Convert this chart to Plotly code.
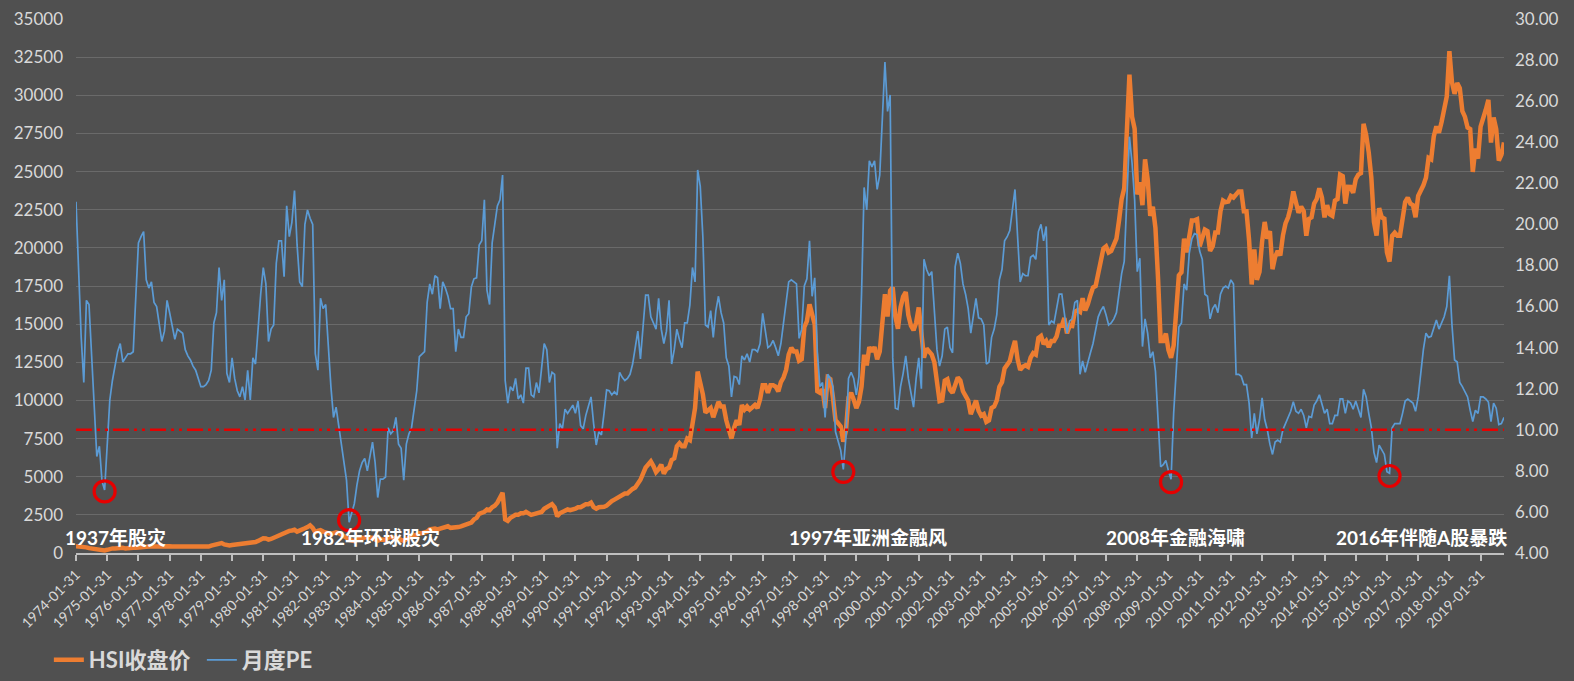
import plotly.graph_objects as go
import pandas as pd

# ---------------- data ----------------
months = pd.date_range("1974-01-31", periods=550, freq="ME").strftime("%Y-%m-%d").tolist()
tick_labels = [f"{y}-01-31" for y in range(1974, 2020)]

hsi_close = [
    440, 420, 460, 400, 370, 320, 300, 260, 210, 230, 190, 171,            # 1974
    210, 280, 300, 290, 330, 360, 340, 300, 290, 300, 340, 350,            # 1975
    380, 400, 420, 420, 430, 430, 440, 430, 420, 410, 420, 447,            # 1976
    440, 425, 420, 410, 420, 410, 415, 410, 410, 400, 400, 404,            # 1977
    390, 385, 400, 420, 480, 530, 560, 620, 650, 560, 500, 496,            # 1978
    520, 540, 560, 580, 620, 600, 590, 620, 660, 720, 790, 880,            # 1979
    960, 950, 880, 920, 1000, 1050, 1150, 1180, 1250, 1330, 1450, 1474,    # 1980
    1520, 1400, 1450, 1560, 1620, 1700, 1810, 1650, 1350, 1450, 1500, 1405,  # 1981
    1350, 1300, 1250, 1300, 1350, 1300, 1200, 1150, 1000, 850, 780, 783,   # 1982
    900, 950, 950, 1000, 1050, 1000, 1000, 880, 800, 880, 850, 874,        # 1983
    1000, 1050, 1000, 1000, 950, 850, 800, 900, 1000, 1050, 1150, 1200,    # 1984
    1300, 1300, 1350, 1400, 1550, 1600, 1600, 1550, 1600, 1650, 1700, 1752,  # 1985
    1650, 1650, 1700, 1700, 1750, 1800, 1850, 1900, 2000, 2200, 2300, 2568,  # 1986
    2600, 2700, 2850, 2800, 3000, 3100, 3300, 3600, 3950, 2200, 2100, 2302,  # 1987
    2400, 2500, 2500, 2600, 2600, 2700, 2600, 2500, 2550, 2600, 2650, 2687,  # 1988
    2900, 3000, 3100, 3200, 3000, 2400, 2600, 2700, 2800, 2850, 2800, 2837,  # 1989
    2900, 3000, 3000, 3100, 3200, 3200, 3300, 3000, 2900, 3000, 3000, 3024,  # 1990
    3100, 3300, 3400, 3500, 3600, 3650, 3800, 3900, 3900, 4100, 4200, 4297,  # 1991
    4500, 4800, 5200, 5600, 5800, 6000, 5700, 5300, 5500, 5800, 5200, 5512,  # 1992
    5600, 6100, 6200, 7000, 7200, 7000, 7000, 7500, 7400, 8600, 9500, 11888,  # 1993
    11200, 10400, 9200, 9400, 9500, 8900, 9500, 9900, 9600, 9600, 8700, 8191,  # 1994
    7500, 8200, 8700, 8400, 9700, 9400, 9600, 9400, 9600, 9700, 9500, 10073,  # 1995
    11000, 11000, 10500, 11000, 11000, 10900, 10600, 11200, 11500, 12000, 13000, 13451,  # 1996
    13200, 13200, 12600, 12700, 14800, 15200, 16300, 15700, 15000, 10600, 10500, 10723,  # 1997
    9500, 11500, 11400, 10200, 8700, 8500, 8300, 7300, 8000, 10200, 10500, 10049,  # 1998
    9500, 9900, 10900, 13000, 12300, 13500, 13200, 13500, 12700, 13200, 15300, 16962,  # 1999
    15500, 17200, 17400, 15500, 14700, 16100, 16800, 17100, 15600, 14900, 14600, 15096,  # 2000
    16100, 14000, 12800, 13400, 13200, 13000, 12500, 11100, 9950, 10000, 11300, 11397,  # 2001
    10700, 10500, 11000, 11500, 11300, 10600, 10300, 10000, 9100, 9500, 10000, 9321,  # 2002
    9000, 9100, 8600, 8700, 9500, 9600, 10000, 10900, 11200, 12100, 12300, 12576,  # 2003
    13300, 13900, 12700, 12000, 12200, 12300, 12200, 12800, 13100, 13000, 14100, 14230,  # 2004
    13700, 13900, 13500, 13900, 13900, 14200, 14900, 14900, 15400, 14400, 14900, 14876,  # 2005
    15800, 15900, 15800, 16700, 15900, 16300, 16900, 17400, 17500, 18300, 18900, 19964,  # 2006
    20100, 19700, 19800, 20300, 20600, 21800, 23200, 23900, 27100, 31352, 28600, 27812,  # 2007
    23500, 24300, 22800, 25800, 24500, 22100, 22700, 21300, 18000, 13900, 13900, 14387,  # 2008
    13300, 12800, 13600, 15500, 18200, 18400, 20600, 19700, 20900, 21800, 21800, 21873,  # 2009
    20100, 20600, 21200, 21100, 19800, 20100, 21000, 21000, 22400, 23100, 23000, 23035,  # 2010
    23400, 23300, 23500, 23700, 23700, 22400, 22400, 20500, 17600, 19900, 17900, 18434,  # 2011
    20400, 21700, 20600, 21100, 18600, 19400, 19800, 19500, 20800, 21600, 22000, 22657,  # 2012
    23700, 23000, 22300, 22700, 22400, 20800, 21900, 22000, 22900, 23200, 23900, 23306,  # 2013
    22000, 22800, 22200, 22100, 23100, 23200, 24800, 24700, 22900, 23998, 23987, 23605,  # 2014
    24500, 24800, 24900, 28133, 27400, 26250, 24600, 21700, 20800, 22600, 21996, 21914,  # 2015
    19700, 19100, 20800, 21000, 20800, 20800, 21900, 23000, 23300, 22900, 22800, 22001,  # 2016
    23400, 23700, 24100, 24600, 25900, 25800, 27300, 27970, 27550, 28245, 29177, 29919,  # 2017
    32887, 30845, 30093, 30808, 30469, 28955, 28583, 27888, 27789, 24979, 26507, 25845,  # 2018
    27943, 28633, 29051, 29699, 26901, 28543, 27777, 25725, 26092, 26906,                # 2019
]

pe_monthly = [
    21.1, 17.5, 14.5, 12.3, 16.3, 16.1, 13.6, 11.1, 8.7, 9.2, 7.5, 7.07,        # 1974
    9.5, 11.45, 12.4, 13.2, 13.8, 14.2, 13.3, 13.5, 13.7, 13.7, 13.8, 16.5,     # 1975
    19.1, 19.4, 19.65, 17.3, 16.9, 17.2, 16.2, 16.0, 15.2, 14.3, 14.8, 16.3,    # 1976
    15.7, 15.0, 14.4, 14.9, 14.8, 14.7, 13.9, 13.6, 13.4, 13.1, 12.9, 12.5,     # 1977
    12.1, 12.1, 12.2, 12.4, 12.9, 15.2, 15.7, 17.9, 16.3, 17.3, 12.75, 12.3,    # 1978
    13.5, 12.5, 11.9, 11.6, 12.1, 11.45, 12.9, 11.45, 13.5, 13.2, 15.0, 16.6,   # 1979
    17.9, 17.1, 14.3, 14.9, 15.1, 18.1, 19.2, 19.2, 17.45, 20.9, 19.4, 20.1,    # 1980
    21.65, 19.0, 17.2, 16.97, 20.0, 20.7, 20.3, 20.0, 13.7, 12.9, 16.4, 15.9,   # 1981
    16.1, 14.0, 12.1, 10.6, 11.1, 10.2, 9.3, 8.4, 7.55, 5.5, 6.0, 6.4,          # 1982
    7.3, 8.0, 8.4, 8.6, 8.0, 8.7, 9.4, 8.4, 6.7, 7.6, 7.6, 7.7,                 # 1983
    10.1, 9.8, 9.95, 10.6, 9.3, 9.1, 7.55, 9.3, 9.8, 10.1, 11.0, 11.9,          # 1984
    13.56, 13.7, 13.8, 16.2, 17.1, 16.6, 17.5, 17.4, 15.9, 17.2, 16.9, 16.5,    # 1985
    15.9, 15.9, 13.8, 14.9, 14.5, 14.5, 15.5, 15.65, 16.95, 17.35, 17.4, 19.0,  # 1986
    19.2, 21.2, 16.8, 16.1, 19.1, 20.0, 20.9, 21.2, 22.4, 12.4, 11.3, 12.1,     # 1987
    11.9, 12.5, 11.5, 11.7, 11.3, 13.0, 13.0, 11.7, 11.6, 12.3, 11.8, 13.0,     # 1988
    14.2, 13.9, 12.3, 12.8, 12.7, 9.1, 10.3, 10.05, 11.0, 10.8, 11.0, 11.2,     # 1989
    10.8, 11.4, 10.2, 10.05, 10.7, 11.2, 11.6, 10.3, 9.26, 9.9, 9.75, 10.8,     # 1990
    11.94, 11.9, 11.7, 11.85, 11.7, 12.8, 12.55, 12.4, 12.5, 12.7, 13.2, 14.0,  # 1991
    14.8, 13.45, 15.0, 16.56, 16.56, 15.5, 15.2, 14.9, 16.4, 14.9, 14.2, 14.8,  # 1992
    16.3, 13.2, 13.9, 14.9, 14.4, 14.0, 15.2, 15.2, 16.07, 17.9, 17.2, 22.65,   # 1993
    21.85, 19.4, 15.1, 15.0, 15.8, 14.5, 15.8, 16.5, 15.7, 15.2, 13.5, 13.1,    # 1994
    11.6, 12.6, 12.55, 12.2, 13.6, 13.4, 13.7, 13.3, 13.9, 13.9, 13.8, 14.2,    # 1995
    15.67, 14.8, 14.0, 14.1, 14.35, 14.0, 13.6, 14.2, 15.2, 16.2, 17.2, 17.3,   # 1996
    17.2, 17.1, 14.45, 14.9, 17.0, 17.35, 19.2, 16.5, 17.4, 13.8, 12.1, 12.3,   # 1997
    10.6, 12.7, 12.5, 12.1, 9.9, 9.5, 9.0, 8.07, 9.65, 12.5, 12.8, 12.5,        # 1998
    11.7, 12.6, 16.6, 21.8, 20.7, 23.1, 22.8, 23.1, 21.7, 22.4, 25.6, 27.9,     # 1999
    25.5, 26.3, 13.5, 11.05, 11.0, 12.1, 12.75, 13.6, 12.5, 11.7, 11.1, 12.5,   # 2000
    13.5, 12.0, 18.3, 17.8, 17.5, 17.7, 15.6, 13.9, 13.1, 13.6, 14.9, 15.0,     # 2001
    14.0, 13.75, 17.94, 18.6, 18.1, 17.1, 16.6, 15.9, 14.7, 15.55, 16.4, 15.45,  # 2002
    15.4, 15.1, 13.2, 13.3, 14.5, 14.9, 15.6, 17.3, 17.8, 19.2, 19.4, 19.7,     # 2003
    20.7, 21.7, 19.4, 17.2, 17.6, 17.5, 17.5, 18.4, 18.5, 18.3, 19.65, 20.0,    # 2004
    19.2, 19.9, 15.1, 15.3, 15.2, 15.85, 16.6, 16.6, 15.7, 14.7, 15.3, 15.4,    # 2005
    16.2, 16.3, 12.7, 13.35, 12.8, 13.35, 13.75, 14.2, 14.9, 15.5, 15.8, 16.0,  # 2006
    15.6, 15.1, 15.2, 15.4, 15.7, 16.8, 17.6, 18.2, 21.1, 24.27, 23.0, 21.2,    # 2007
    17.7, 18.35, 14.05, 15.4, 14.7, 13.5, 13.8, 12.85, 10.5, 8.2, 8.3, 8.5,     # 2008
    8.0, 7.59, 10.8, 13.1, 15.0, 15.2, 17.1, 16.8, 18.6, 19.3, 19.55, 19.5,     # 2009
    18.7, 18.3, 16.6, 16.5, 15.4, 15.9, 16.1, 15.7, 16.6, 16.9, 17.0, 16.9,     # 2010
    17.3, 17.1, 12.7, 12.7, 12.6, 12.2, 12.2, 11.3, 9.6, 10.8, 9.8, 10.5,       # 2011
    11.55, 10.5, 10.0, 9.3, 8.8, 9.4, 9.5, 9.4, 10.0, 10.3, 10.6, 10.9,         # 2012
    11.37, 10.9, 10.8, 11.0, 10.7, 10.1, 10.65, 10.6, 11.2, 11.4, 11.7, 11.3,   # 2013
    10.8, 11.0, 10.3, 10.3, 10.7, 10.7, 11.5, 11.5, 10.8, 11.4, 11.3, 11.0,     # 2014
    11.4, 11.0, 10.6, 11.97, 11.6, 10.8, 10.1, 8.9, 8.4, 9.25, 9.0, 8.8,        # 2015
    7.96, 7.88, 10.1, 10.3, 10.3, 10.3, 10.8, 11.4, 11.5, 11.4, 11.3, 10.9,     # 2016
    11.6, 12.75, 13.9, 14.7, 14.5, 14.55, 14.95, 15.35, 14.9, 15.2, 15.5, 16.0,  # 2017
    17.5, 15.1, 13.4, 13.3, 12.3, 12.1, 11.85, 11.6, 10.95, 10.4, 10.95, 10.8,  # 2018
    11.6, 11.6, 11.5, 11.35, 10.4, 11.3, 11.05, 10.25, 10.3, 10.6,              # 2019
]

# PE troughs highlighted with red circles
trough_dates = ["1974-12-31", "1982-10-31", "1998-08-31", "2009-02-28", "2016-02-29"]
trough_pe = [7.0, 5.6, 7.95, 7.45, 7.75]
pe_alert_level = 10.0

event_labels = ["1937年股灾", "1982年环球股灾", "1997年亚洲金融风", "2008年金融海啸", "2016年伴随A股暴跌"]
event_label_px = [115, 370, 868, 1175, 1421]   # horizontal centre in page pixels

# ---------------- figure ----------------
W, H = 1574, 681
ML, MR, MT, MB = 76, 70, 19, 128
PW = W - ML - MR
PH = H - MT - MB

BG = "#505050"
GRID = "#6A6A6A"
TXT = "#D9D9D9"
FONT = "Lato, 'Noto Sans CJK SC', sans-serif"

fig = go.Figure()
fig.add_trace(go.Scatter(
    x=months, y=hsi_close, name="HSI收盘价", mode="lines",
    line=dict(color="#ED7D31", width=4.5), yaxis="y",
))
fig.add_trace(go.Scatter(
    x=months, y=pe_monthly, name="月度PE", mode="lines",
    line=dict(color="#5B9BD5", width=1.7), yaxis="y2",
))
fig.add_trace(go.Scatter(
    x=trough_dates, y=trough_pe, mode="markers", showlegend=False,
    marker=dict(symbol="circle-open", size=21, color="#E60000", line=dict(width=3.2, color="#E60000")),
    yaxis="y2", hoverinfo="skip",
))

annotations = []
for txt, px in zip(event_labels, event_label_px):
    annotations.append(dict(
        text=txt, x=(px - ML) / PW, y=(MT + PH - 537) / PH, xref="paper", yref="paper",
        xanchor="center", yanchor="middle", showarrow=False,
        font=dict(family=FONT, size=19, color="#FFFFFF", weight="bold"),
    ))

fig.update_layout(
    width=W, height=H,
    margin=dict(l=ML, r=MR, t=MT, b=MB, pad=0, autoexpand=False),
    paper_bgcolor=BG, plot_bgcolor=BG,
    font=dict(family=FONT, color=TXT, size=17),
    showlegend=True,
    legend=dict(
        orientation="h", x=-0.019, y=(MT + PH - 660) / PH, xanchor="left", yanchor="middle",
        font=dict(family=FONT, size=22, color=TXT, weight="bold"),
        bgcolor="rgba(0,0,0,0)", entrywidth=108, entrywidthmode="pixels",
    ),
    xaxis=dict(
        type="category", range=[0, len(months) - 1], automargin=False,
        tickmode="array", tickvals=tick_labels, ticktext=tick_labels,
        tickangle=-45, tickfont=dict(size=14, color=TXT),
        ticks="outside", ticklen=6, tickcolor="#BFBFBF", tickwidth=1.5,
        showline=True, linecolor="#BFBFBF", linewidth=2,
        showgrid=False, zeroline=False,
    ),
    yaxis=dict(
        range=[0, 35000], tickmode="linear", tick0=0, dtick=2500, automargin=False,
        tickformat="d", tickfont=dict(size=17, color=TXT),
        showgrid=True, gridcolor=GRID, gridwidth=1, zeroline=False,
        ticks="", ticklabelstandoff=12,
    ),
    yaxis2=dict(
        range=[4, 30], tickmode="linear", tick0=4, dtick=2, automargin=False,
        tickformat=".2f", tickfont=dict(size=17, color=TXT),
        overlaying="y", side="right", showgrid=False, zeroline=False,
        ticks="", ticklabelstandoff=10,
    ),
    shapes=[dict(
        type="line", xref="paper", x0=0, x1=1, yref="y2", y0=pe_alert_level, y1=pe_alert_level,
        line=dict(color="#E60000", width=2.5, dash="16px,5px,3px,5px,3px,5px"), layer="above",
    )],
    annotations=annotations,
)

fig.write_html("out.html")
